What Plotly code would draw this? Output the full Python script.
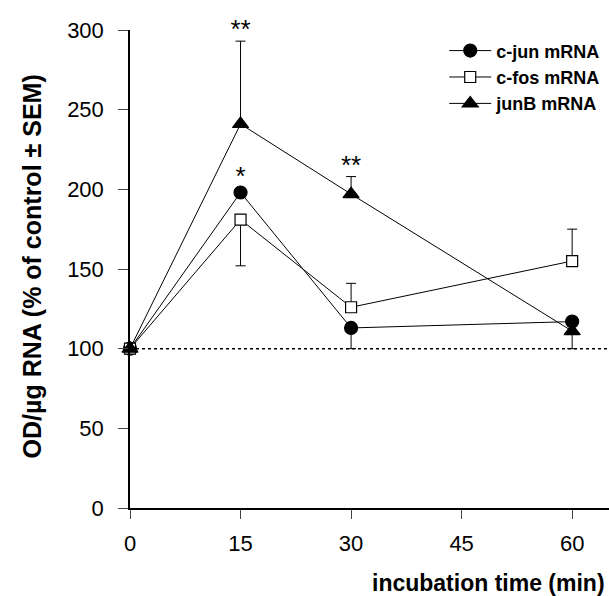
import plotly.graph_objects as go

time_min = [0, 15, 30, 60]
cjun = [100, 198, 113, 117]
cjun_err_plus = [0, 0, 0, 0]
cjun_err_minus = [0, 0, 13, 0]
cfos = [100, 181, 126, 155]
cfos_err_plus = [0, 0, 15, 20]
cfos_err_minus = [0, 29, 0, 0]
junb = [100, 241, 197, 111]
junb_err_plus = [0, 52, 11, 0]
junb_err_minus = [0, 0, 0, 11]

x_ticks = [0, 15, 30, 45, 60]
y_ticks = [0, 50, 100, 150, 200, 250, 300]

sig_x = [15, 15, 30]
sig_y = [299, 207, 214]
sig_text = ["**", "*", "**"]

FONT = "Liberation Sans, Arial, sans-serif"

fig = go.Figure()

def add(name, y, ep, em, symbol, size, fill):
    fig.add_trace(go.Scatter(
        x=time_min, y=y, name=name, mode="lines+markers",
        line=dict(color="black", width=1),
        marker=dict(symbol=symbol, size=size, color=fill,
                    line=dict(color="black", width=1.2)),
        error_y=dict(type="data", symmetric=False, array=ep, arrayminus=em,
                     color="black", thickness=1, width=5),
        cliponaxis=False,
    ))

add("c-jun mRNA", cjun, cjun_err_plus, cjun_err_minus, "circle", 13, "black")
add("c-fos mRNA", cfos, cfos_err_plus, cfos_err_minus, "square", 11, "white")
add("junB mRNA", junb, junb_err_plus, junb_err_minus, "triangle-up", 14, "black")

fig.add_trace(go.Scatter(
    x=sig_x, y=sig_y, text=sig_text, mode="text", textposition="middle center",
    textfont=dict(family=FONT, size=26, color="black"),
    showlegend=False, cliponaxis=False, hoverinfo="skip",
))

fig.add_shape(type="line", xref="paper", yref="y", x0=0, x1=1, y0=100, y1=100,
              line=dict(color="black", width=1.5, dash="dot"), layer="below")

fig.add_annotation(xref="paper", yref="paper", x=0.995, y=-0.157, xanchor="right", yanchor="middle",
                   text="<b>incubation time (min)</b>", showarrow=False,
                   font=dict(family=FONT, size=23, color="black"))
fig.add_annotation(xref="paper", yref="paper", x=-0.205, y=0.505, xanchor="center", yanchor="middle",
                   text="<b>OD/µg RNA (% of control ± SEM)</b>", textangle=-90, showarrow=False,
                   font=dict(family=FONT, size=25, color="black"))

fig.update_layout(
    width=609, height=596,
    margin=dict(l=130, r=0, t=30, b=88),
    plot_bgcolor="white", paper_bgcolor="white",
    font=dict(family=FONT, size=22, color="black"),
    showlegend=True,
    legend=dict(x=0.656, y=0.995, xanchor="left", yanchor="top",
                font=dict(family=FONT, size=18, color="black", weight="bold"),
                bgcolor="rgba(0,0,0,0)", tracegroupgap=0, itemwidth=42),
    xaxis=dict(range=[0, 65.0], tickvals=x_ticks, ticks="outside", ticklen=9,
               tickwidth=1, showline=True, linecolor="black", linewidth=2,
               showgrid=False, zeroline=False, tickfont=dict(size=22),
               ticklabelstandoff=6),
    yaxis=dict(range=[0, 300], tickvals=y_ticks, ticks="outside", ticklen=10,
               tickwidth=1, showline=True, linecolor="black", linewidth=1.5,
               showgrid=False, zeroline=False, tickfont=dict(size=22),
               ticklabelstandoff=10),
)

fig.write_html("out.html", config={"displayModeBar": False},
               post_script="document.body.style.margin='0px';")
